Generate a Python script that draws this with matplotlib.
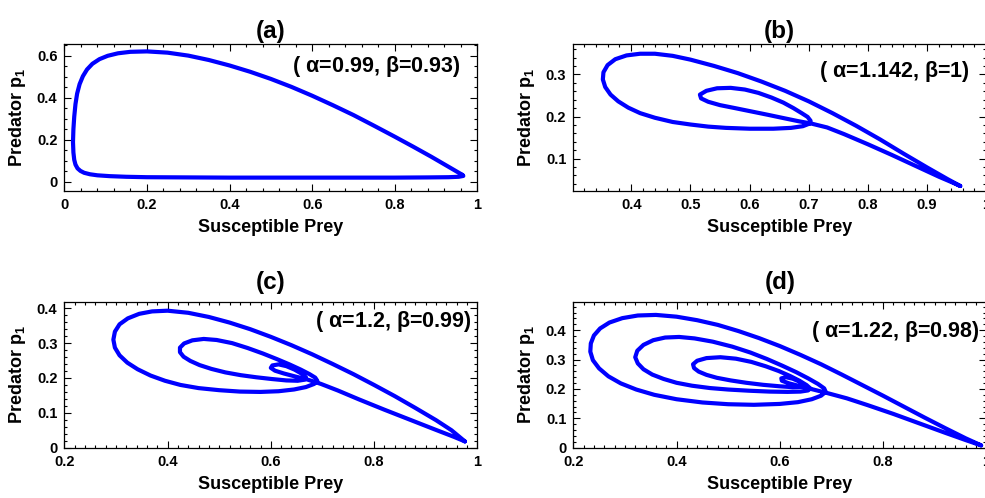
import numpy as np
import matplotlib
matplotlib.use('Agg')
import matplotlib.pyplot as plt
from matplotlib.ticker import MultipleLocator, FuncFormatter

plt.rcParams['font.family'] = ['Liberation Sans', 'DejaVu Sans']
plt.rcParams['font.weight'] = 'bold'
plt.rcParams['mathtext.fontset'] = 'custom'
plt.rcParams['mathtext.rm'] = 'Liberation Sans'
plt.rcParams['mathtext.bf'] = 'Liberation Sans:bold'
plt.rcParams['mathtext.it'] = 'Liberation Sans:italic'

# limit cycles (susceptible prey, predator p1)
a_x = [0.964, 0.930, 0.888, 0.845, 0.800, 0.750, 0.700, 0.650, 0.600, 0.550,
       0.500, 0.450, 0.400, 0.350, 0.300, 0.250, 0.200, 0.160, 0.130, 0.105,
       0.085, 0.068, 0.055, 0.045, 0.037, 0.031, 0.027, 0.024, 0.022, 0.021,
       0.022, 0.024, 0.027, 0.032, 0.039, 0.048, 0.062, 0.080, 0.110, 0.150,
       0.200, 0.300, 0.400, 0.500, 0.600, 0.700, 0.800, 0.880, 0.930, 0.955,
       0.966, 0.964]
a_y = [0.033, 0.072, 0.120, 0.167, 0.215, 0.267, 0.318, 0.365, 0.410, 0.452,
       0.490, 0.524, 0.554, 0.580, 0.601, 0.615, 0.621, 0.619, 0.612, 0.600,
       0.584, 0.562, 0.535, 0.503, 0.465, 0.420, 0.370, 0.310, 0.250, 0.190,
       0.140, 0.105, 0.082, 0.064, 0.052, 0.043, 0.036, 0.031, 0.027, 0.024,
       0.022, 0.021, 0.020, 0.020, 0.020, 0.020, 0.020, 0.021, 0.022, 0.024,
       0.028, 0.033]

b_x = [0.956, 0.935, 0.900, 0.860, 0.820, 0.780, 0.740, 0.700, 0.660, 0.620,
       0.580, 0.540, 0.500, 0.470, 0.440, 0.415, 0.392, 0.373, 0.360, 0.353,
       0.352, 0.356, 0.365, 0.378, 0.395, 0.415, 0.440, 0.470, 0.500, 0.530,
       0.560, 0.600, 0.640, 0.670, 0.690, 0.701, 0.703, 0.698, 0.688, 0.674,
       0.657, 0.637, 0.615, 0.592, 0.568, 0.545, 0.527, 0.516, 0.518, 0.530,
       0.550, 0.575, 0.603, 0.631, 0.658, 0.682, 0.705, 0.731, 0.760, 0.800,
       0.840, 0.880, 0.920, 0.945, 0.956]
b_y = [0.035, 0.051, 0.079, 0.112, 0.146, 0.178, 0.208, 0.236, 0.261, 0.283,
       0.303, 0.320, 0.335, 0.344, 0.349, 0.349, 0.345, 0.336, 0.322, 0.305,
       0.288, 0.270, 0.252, 0.236, 0.221, 0.208, 0.197, 0.187, 0.181, 0.176,
       0.173, 0.171, 0.171, 0.173, 0.177, 0.183, 0.190, 0.199, 0.208, 0.220,
       0.233, 0.245, 0.256, 0.264, 0.268, 0.267, 0.261, 0.252, 0.243, 0.235,
       0.227, 0.220, 0.212, 0.204, 0.196, 0.189, 0.183, 0.174, 0.158, 0.134,
       0.109, 0.083, 0.057, 0.042, 0.035]

c_x = [0.976, 0.950, 0.920, 0.880, 0.840, 0.800, 0.760, 0.720, 0.680, 0.640,
       0.600, 0.560, 0.520, 0.480, 0.440, 0.400, 0.370, 0.345, 0.323, 0.307,
       0.298, 0.295, 0.298, 0.307, 0.322, 0.342, 0.367, 0.395, 0.425, 0.460,
       0.500, 0.540, 0.580, 0.615, 0.645, 0.668, 0.684, 0.690, 0.686, 0.675,
       0.658, 0.636, 0.612, 0.585, 0.555, 0.525, 0.495, 0.470, 0.448, 0.432,
       0.424, 0.424, 0.431, 0.444, 0.462, 0.485, 0.512, 0.542, 0.572, 0.602,
       0.630, 0.652, 0.665, 0.668, 0.660, 0.646, 0.630, 0.615, 0.603, 0.600,
       0.608, 0.625, 0.648, 0.672, 0.697, 0.730, 0.770, 0.820, 0.870, 0.920,
       0.955, 0.976]
c_y = [0.018, 0.050, 0.079, 0.114, 0.148, 0.180, 0.211, 0.240, 0.268, 0.294,
       0.318, 0.340, 0.359, 0.375, 0.387, 0.393, 0.391, 0.384, 0.371, 0.354,
       0.333, 0.310, 0.287, 0.265, 0.244, 0.225, 0.207, 0.192, 0.180, 0.171,
       0.165, 0.161, 0.160, 0.162, 0.167, 0.174, 0.183, 0.192, 0.201, 0.211,
       0.224, 0.239, 0.254, 0.270, 0.286, 0.300, 0.309, 0.312, 0.308, 0.299,
       0.287, 0.274, 0.261, 0.249, 0.237, 0.226, 0.216, 0.208, 0.202, 0.197,
       0.193, 0.192, 0.195, 0.202, 0.212, 0.224, 0.234, 0.239, 0.236, 0.229,
       0.221, 0.213, 0.204, 0.195, 0.183, 0.164, 0.139, 0.109, 0.080, 0.051,
       0.031, 0.018]

d_x = [0.990, 0.960, 0.920, 0.880, 0.840, 0.800, 0.760, 0.720, 0.680, 0.640,
       0.600, 0.560, 0.520, 0.480, 0.440, 0.400, 0.360, 0.325, 0.295, 0.270,
       0.252, 0.240, 0.234, 0.233, 0.238, 0.250, 0.268, 0.292, 0.322, 0.357,
       0.400, 0.450, 0.500, 0.550, 0.600, 0.635, 0.662, 0.680, 0.689, 0.686,
       0.674, 0.655, 0.632, 0.605, 0.575, 0.543, 0.508, 0.470, 0.435, 0.405,
       0.378, 0.355, 0.336, 0.324, 0.320, 0.325, 0.336, 0.353, 0.375, 0.400,
       0.430, 0.465, 0.500, 0.540, 0.580, 0.615, 0.640, 0.655, 0.659, 0.652,
       0.638, 0.620, 0.598, 0.573, 0.545, 0.515, 0.485, 0.458, 0.440, 0.432,
       0.434, 0.443, 0.458, 0.478, 0.505, 0.535, 0.568, 0.600, 0.625, 0.640,
       0.645, 0.638, 0.625, 0.612, 0.603, 0.604, 0.618, 0.640, 0.665, 0.692,
       0.730, 0.770, 0.820, 0.870, 0.920, 0.960, 0.990]
d_y = [0.008, 0.032, 0.067, 0.103, 0.140, 0.177, 0.213, 0.249, 0.284, 0.316,
       0.346, 0.373, 0.397, 0.418, 0.434, 0.446, 0.452, 0.450, 0.441, 0.426,
       0.406, 0.382, 0.355, 0.327, 0.298, 0.270, 0.243, 0.219, 0.198, 0.180,
       0.165, 0.154, 0.148, 0.146, 0.149, 0.155, 0.165, 0.177, 0.190, 0.202,
       0.217, 0.236, 0.257, 0.279, 0.302, 0.324, 0.344, 0.361, 0.372, 0.377,
       0.375, 0.366, 0.350, 0.330, 0.308, 0.287, 0.267, 0.249, 0.234, 0.221,
       0.211, 0.203, 0.198, 0.194, 0.191, 0.190, 0.191, 0.195, 0.202, 0.213,
       0.228, 0.244, 0.261, 0.277, 0.292, 0.303, 0.308, 0.305, 0.296, 0.284,
       0.271, 0.259, 0.248, 0.238, 0.229, 0.221, 0.214, 0.209, 0.206, 0.207,
       0.214, 0.225, 0.235, 0.240, 0.236, 0.228, 0.219, 0.209, 0.198, 0.186,
       0.168, 0.145, 0.115, 0.083, 0.051, 0.026, 0.008]

titles = ['(a)', '(b)', '(c)', '(d)']
params = [r'$\mathrm{(\ \alpha}$=0.99, $\mathrm{\beta}$=0.93)',
          r'$\mathrm{(\ \alpha}$=1.142, $\mathrm{\beta}$=1)',
          r'$\mathrm{(\ \alpha}$=1.2, $\mathrm{\beta}$=0.99)',
          r'$\mathrm{(\ \alpha}$=1.22, $\mathrm{\beta}$=0.98)']
xlims = [(0, 1), (0.302, 1.0), (0.2, 1.0), (0.2, 1.0)]
ylims = [(-0.046, 0.654), (0.022, 0.371), (0.0, 0.418), (0.0, 0.496)]
xmajor = [0.2, 0.1, 0.2, 0.2]
xminor = [0.04, 0.02, 0.02, 0.02]
ymajor = [0.2, 0.1, 0.1, 0.1]
yminor = [0.05, 0.02, 0.02, 0.02]
text_pos = [(0.96, 0.85), (0.96, 0.815), (0.987, 0.865), (0.985, 0.796)]
title_pad = [5, 5, 9.5, 9.5]

# axes boxes in figure fraction [left, bottom, width, height]
boxes = [[0.0653, 0.6155, 0.4193, 0.2952],
         [0.5820, 0.6155, 0.4193, 0.2952],
         [0.0653, 0.1010, 0.4193, 0.2926],
         [0.5820, 0.1010, 0.4193, 0.2926]]


def tick_fmt(v, pos):
    if abs(v) < 1e-9:
        return '0'
    if abs(v - 1) < 1e-9:
        return '1'
    return '%.1f' % v


fig = plt.figure(figsize=(9.85, 4.98), dpi=100)
curves = [(a_x, a_y), (b_x, b_y), (c_x, c_y), (d_x, d_y)]

for i, (xs, ys) in enumerate(curves):
    ax = fig.add_axes(boxes[i])
    ax.plot(xs, ys, color='#0000ff', lw=3.0, solid_joinstyle='round',
            solid_capstyle='round')
    ax.set_xlim(*xlims[i])
    ax.set_ylim(*ylims[i])
    ax.xaxis.set_major_locator(MultipleLocator(xmajor[i]))
    ax.xaxis.set_minor_locator(MultipleLocator(xminor[i]))
    ax.yaxis.set_major_locator(MultipleLocator(ymajor[i]))
    ax.yaxis.set_minor_locator(MultipleLocator(yminor[i]))
    ax.xaxis.set_major_formatter(FuncFormatter(tick_fmt))
    ax.yaxis.set_major_formatter(FuncFormatter(tick_fmt))
    ax.tick_params(which='both', direction='in', top=True, right=True,
                   width=0.8, labelsize=10.5)
    ax.tick_params(which='major', length=5, pad=5)
    ax.tick_params(which='minor', length=2.5)
    for sp in ax.spines.values():
        sp.set_linewidth(0.9)
    ax.set_xlabel('Susceptible Prey', fontsize=13, fontweight='bold', labelpad=5)
    ax.set_ylabel(r'Predator p$_{\mathbf{1}}$', fontsize=13, fontweight='bold',
                  labelpad=6)
    ax.set_title(titles[i], fontsize=17.5, fontweight='bold', pad=title_pad[i])
    ax.text(text_pos[i][0], text_pos[i][1], params[i], transform=ax.transAxes,
            ha='right', va='center', fontsize=15.5, fontweight='bold')

fig.savefig('out.png', dpi=100)
